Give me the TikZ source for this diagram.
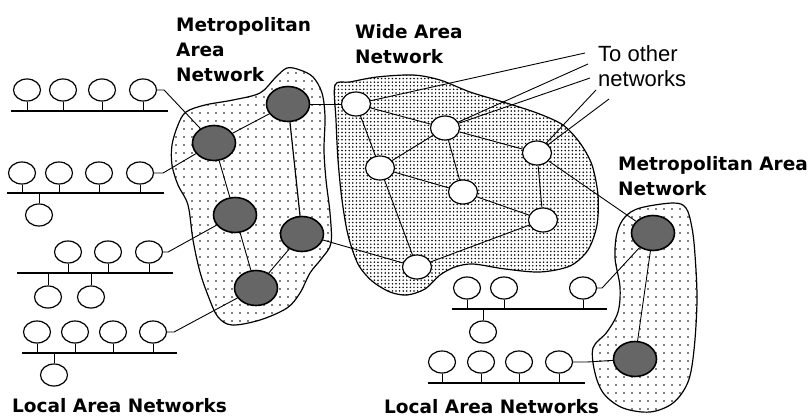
\documentclass[tikz,border=0pt]{standalone}
\usepackage{fontspec}
\newfontfamily\labfont{DejaVu Sans}
\newfontfamily\thinfont{Liberation Sans}
\usetikzlibrary{shapes.geometric,patterns.meta}
\begin{document}
\begin{tikzpicture}[x=1pt,y=-1pt,
  lan/.style={ellipse,draw,line width=1.2pt,fill=white,minimum width=27pt,minimum height=22pt,inner sep=0pt},
  man/.style={ellipse,draw,line width=1.6pt,fill=black!60,minimum width=43pt,minimum height=35pt,inner sep=0pt},
  wan/.style={ellipse,draw,line width=1.2pt,fill=white,minimum width=29pt,minimum height=24pt,inner sep=0pt},
  link/.style={line width=0.9pt},
  bus/.style={line width=1.5pt},
  blob/.style={draw,line width=1.2pt},
  lbl/.style={font=\labfont\bfseries\fontsize{18.5}{25}\selectfont,align=left,inner sep=0pt,anchor=north west},
  thinlbl/.style={font=\thinfont\fontsize{22}{25}\selectfont,align=left,inner sep=0pt,anchor=north west}
]
\useasboundingbox (0,0) rectangle (809,417);

% ---- blobs ----
\draw[blob,pattern={Dots[distance=8pt,radius=0.9pt]}] plot[smooth cycle,tension=0.55] coordinates {
 (287,68) (300,70) (313,77) (322,93) (325,117) (324,150) (326,180) (330,213) (331,243)
 (322,258) (310,273) (300,293) (287,308) (260,320) (232,325) (218,317) (209,298) (200,272)
 (193,240) (188,205) (178,185) (172,165) (172,145) (178,125) (186,112) (205,105) (233,100)
 (260,93) (275,78)};
\draw[blob,pattern={Dots[distance=3.6pt,radius=0.85pt]}] plot[smooth cycle,tension=0.5] coordinates {
 (335,85) (350,82) (377,77) (413,75) (440,80) (470,92) (503,102) (537,113) (563,125)
 (580,143) (592,165) (598,195) (597,225) (588,250) (570,266) (540,272) (505,269) (473,264)
 (455,267) (440,275) (425,289) (407,295) (390,292) (372,281) (358,264) (348,235) (342,200)
 (338,160) (336,120)};
\draw[blob,pattern={Dots[distance=8pt,radius=0.9pt]}] plot[smooth cycle,tension=0.55] coordinates {
 (640,208) (673,203) (686,208) (692,228) (695,255) (697,300) (694,350) (688,382) (673,403)
 (650,412) (623,408) (604,394) (595,373) (593,348) (607,332) (618,312) (620,287) (615,258)
 (617,233) (625,217)};

% ---- MAN nodes ----
\node[man] (A) at (214,143) {};
\node[man] (B) at (288,104) {};
\node[man] (C) at (235,215) {};
\node[man] (D) at (302,234) {};
\node[man] (E) at (256,288) {};
\node[man] (R1) at (653,233) {};
\node[man] (R2) at (635,359) {};

% ---- WAN nodes ----
\node[wan] (W1) at (356,104) {};
\node[wan] (W2) at (445,128) {};
\node[wan] (W3) at (537,153) {};
\node[wan] (W4) at (380,168) {};
\node[wan] (W5) at (463,192) {};
\node[wan] (W6) at (543,220) {};
\node[wan] (W7) at (417,267) {};

% ---- LAN nodes ----
\node[lan] (a1) at (27,90) {};
\node[lan] (a2) at (63,90) {};
\node[lan] (a3) at (102,90) {};
\node[lan] (a4) at (143,90) {};
\coordinate (ab1) at (11,111); \coordinate (ab2) at (168,111);

\node[lan] (b1) at (22,173) {};
\node[lan] (b2) at (59,173) {};
\node[lan] (b3) at (99,173) {};
\node[lan] (b4) at (140,173) {};
\node[lan] (b5) at (39,215) {};
\coordinate (bb1) at (7,193); \coordinate (bb2) at (164,193);

\node[lan] (c1) at (68,252) {};
\node[lan] (c2) at (108,252) {};
\node[lan] (c3) at (149,252) {};
\node[lan] (c4) at (48,297) {};
\node[lan] (c5) at (91,297) {};
\coordinate (cb1) at (17,273); \coordinate (cb2) at (173,273);

\node[lan] (d1) at (37,332) {};
\node[lan] (d2) at (75,332) {};
\node[lan] (d3) at (113,332) {};
\node[lan] (d4) at (153,332) {};
\node[lan] (d5) at (54,375) {};
\coordinate (db1) at (22,353); \coordinate (db2) at (177,353);

\node[lan] (e1) at (467,288) {};
\node[lan] (e2) at (504,288) {};
\node[lan] (e3) at (583,288) {};
\node[lan] (e4) at (483,332) {};
\coordinate (eb1) at (452,309); \coordinate (eb2) at (607,309);

\node[lan] (f1) at (442,362) {};
\node[lan] (f2) at (481,362) {};
\node[lan] (f3) at (519,362) {};
\node[lan] (f4) at (559,362) {};
\coordinate (fb1) at (428,383); \coordinate (fb2) at (585,383);

% ---- buses and stubs ----
\draw[bus] (ab1) -- (ab2);
\draw[bus] (bb1) -- (bb2);
\draw[bus] (cb1) -- (cb2);
\draw[bus] (db1) -- (db2);
\draw[bus] (eb1) -- (eb2);
\draw[bus] (fb1) -- (fb2);
\foreach \n in {a1,a2,a3,a4} \draw[link] (\n) -- (\n |- ab1);
\foreach \n in {b1,b2,b3,b4,b5} \draw[link] (\n) -- (\n |- bb1);
\foreach \n in {c1,c2,c3,c4,c5} \draw[link] (\n) -- (\n |- cb1);
\foreach \n in {d1,d2,d3,d4,d5} \draw[link] (\n) -- (\n |- db1);
\foreach \n in {e1,e2,e3,e4} \draw[link] (\n) -- (\n |- eb1);
\foreach \n in {f1,f2,f3,f4} \draw[link] (\n) -- (\n |- fb1);

% ---- LAN to MAN ----
\draw[link] (a4.east) -- ++(7,0) -- (A);
\draw[link] (b4.east) -- ++(9,0) -- (A);
\draw[link] (c3.east) -- ++(5,0) -- (C);
\draw[link] (d4.east) -- ++(7,0) -- (E);
\draw[link] (e3.east) -- ++(5,0) -- (R1);
\draw[link] (f4.east) -- ++(14,0) -- (R2);

% ---- MAN links ----
\draw[link] (A) -- (B);
\draw[link] (A) -- (C);
\draw[link,line width=1.2pt] (B) -- (D);
\draw[link] (C) -- (E);
\draw[link] (D) -- (E);
\draw[link] (B) -- (W1);
\draw[link] (D) -- (W7);
\draw[link] (R1) -- (R2);
\draw[link] (W3) -- (R1);

% ---- WAN links ----
\draw[link] (W1) -- (W2);
\draw[link] (W1) -- (W4);
\draw[link] (W2) -- (W4);
\draw[link] (W2) -- (W5);
\draw[link] (W2) -- (W3);
\draw[link] (W4) -- (W5);
\draw[link] (W4) -- (W7);
\draw[link] (W5) -- (W6);
\draw[link] (W3) -- (W6);
\draw[link] (W7) -- (W6);

% ---- to other networks ----
\coordinate (t1) at (585,53);
\coordinate (t2) at (588,64);
\coordinate (t3) at (590,78);
\coordinate (t4) at (596,90);
\coordinate (t5) at (609,99);
\draw[link] (W1) -- (t1);
\draw[link] (W2) -- (t2);
\draw[link] (W2) -- (t3);
\draw[link] (W3) -- (t4);
\draw[link] (W3) -- (t5);

% ---- labels ----
\node[lbl] (tm1) at (176,17.5) {Metropolitan\\Area\\Network};
\node[lbl] (tw) at (355,24) {Wide Area\\Network};
\node[lbl] (tm2) at (618,156) {Metropolitan Area\\Network};
\node[lbl] (tl1) at (12,398) {Local Area Networks};
\node[lbl] (tl2) at (384,399) {Local Area Networks};
\node[thinlbl] (to) at (598,45.5) {To other\\networks};
\end{tikzpicture}
\end{document}
